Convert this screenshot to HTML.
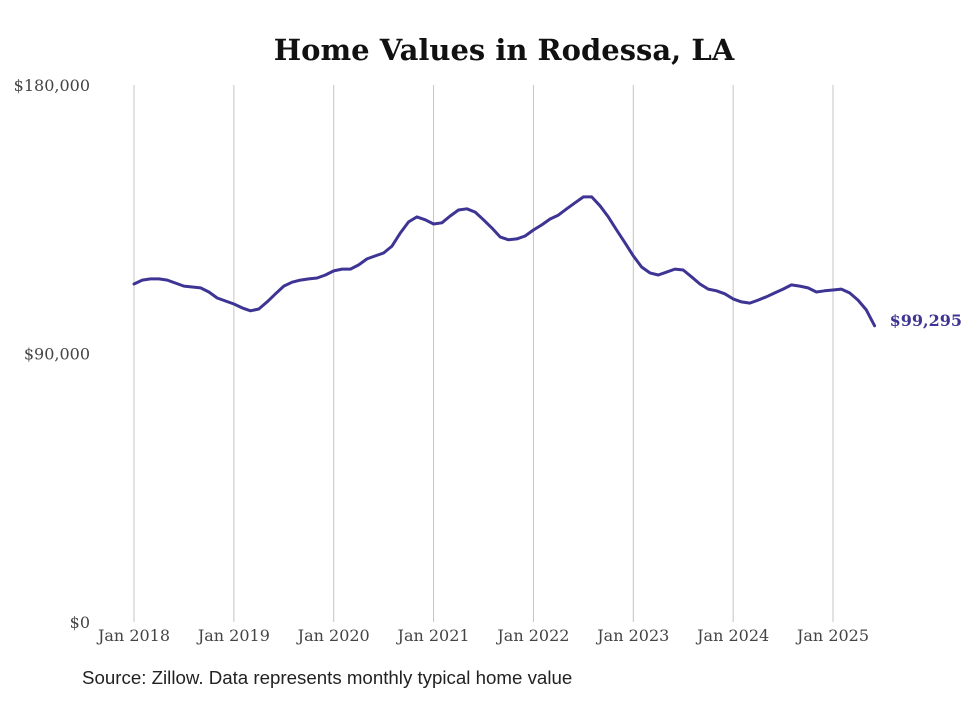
<!DOCTYPE html>
<html><head><meta charset="utf-8"><style>
body{margin:0;background:#fff;}
svg text{font-family:"DejaVu Serif","Liberation Serif",serif;}
</style></head><body>
<svg id="chart" width="980" height="699" viewBox="0 0 980 699" xmlns="http://www.w3.org/2000/svg">
<rect width="980" height="699" fill="#fff"/>
<text x="504" y="60" text-anchor="middle" font-size="29" font-weight="bold" fill="#111">Home Values in Rodessa, LA</text>
<g id="grid"></g><g id="yaxis"></g><g id="xaxis"></g><g id="series"></g>
<text x="82" y="684" font-size="18.7" fill="#222" style="font-family:'Liberation Sans',sans-serif">Source: Zillow. Data represents monthly typical home value</text>
</svg>
<script>
const yTicks=[0,90000,180000];
const yTickLabels=["$0","$90,000","$180,000"];
const xYears=[2018,2019,2020,2021,2022,2023,2024,2025];
const xTickLabels=["Jan 2018","Jan 2019","Jan 2020","Jan 2021","Jan 2022","Jan 2023","Jan 2024","Jan 2025"];
const startYear=2018;
const values=[113.3,114.6,115.0,115.0,114.6,113.6,112.6,112.3,112.0,110.6,108.6,107.6,
106.6,105.3,104.3,104.9,107.3,110.0,112.6,113.9,114.6,115.0,115.3,116.3,
117.7,118.3,118.3,119.7,121.7,122.7,123.7,126.0,130.4,134.1,135.8,134.8,
133.4,133.8,136.1,138.1,138.5,137.4,134.8,132.1,129.1,128.1,128.4,129.4,
131.4,133.1,135.1,136.4,138.5,140.5,142.5,142.5,139.5,135.8,131.4,127.1,
122.7,119.0,117.0,116.3,117.3,118.3,118.0,115.7,113.3,111.6,111.0,110.0,
108.3,107.3,106.9,107.9,109.0,110.3,111.6,113.0,112.6,112.0,110.6,111.0,
111.3,111.6,110.3,107.9,104.6,99.295];
const lastLabel="$99,295";
const X=m=>134+m*(699/84);
const Y=v=>622-v/180000*537;
const NS="http://www.w3.org/2000/svg";
function mk(tag,attrs,parent,txt){const e=document.createElementNS(NS,tag);for(const k in attrs)e.setAttribute(k,attrs[k]);if(txt)e.textContent=txt;document.getElementById(parent).appendChild(e);return e;}
xYears.forEach((yr,i)=>{
 const x=X((yr-startYear)*12);
 const g=mk('line',{x1:x,x2:x,y1:85,y2:622,stroke:'#c4c4c4','stroke-width':1},'grid');
 
 
 const t=mk('text',{x:x,y:641,'text-anchor':'middle','font-size':16,fill:'#444'},'xaxis',xTickLabels[i]);
 
 
});
yTicks.forEach((v,i)=>{
 const t=mk('text',{x:90,y:Y(v)+6,'text-anchor':'end','font-size':16,fill:'#444'},'yaxis',yTickLabels[i]);
 
 
});
const d=values.map((v,i)=>(i?'L':'M')+X(i).toFixed(1)+','+Y(v*1000).toFixed(1)).join(' ');
const p=mk('path',{d:d,fill:'none',stroke:'#3d3494','stroke-width':3,'stroke-linejoin':'round','stroke-linecap':'round'},'series');


const li=values.length-1;
const lt=mk('text',{x:X(li)+15,y:Y(values[li]*1000),'font-size':16,'font-weight':'bold',fill:'#3d3494'},'series',lastLabel);


</script>
</body></html>
